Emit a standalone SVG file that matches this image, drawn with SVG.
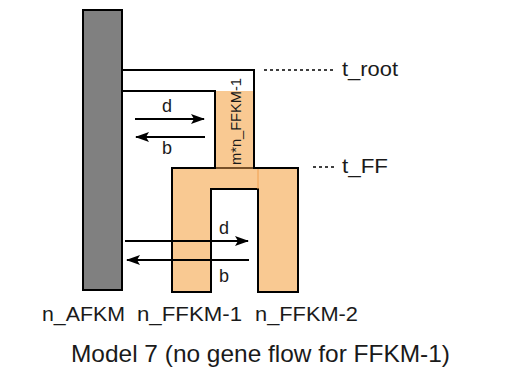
<svg xmlns="http://www.w3.org/2000/svg" width="523" height="377" viewBox="0 0 523 377">
<defs>
<style>
.t{font-family:"Liberation Sans",Arial,sans-serif;fill:#1a1a1a}
.ln{stroke:#000;stroke-width:2;fill:none}
.ar{stroke:#000;stroke-width:2;fill:none}
.dot{stroke:#000;stroke-width:1.3;stroke-dasharray:3,3;fill:none}
</style>
<marker id="ah2" viewBox="0 0 14 10" refX="13" refY="5" markerWidth="14" markerHeight="10" markerUnits="userSpaceOnUse" orient="auto">
<path d="M0,0 L14,5 L0,10 L3,5 z" fill="#000"/>
</marker>
</defs>
<rect width="523" height="377" fill="#fff"/>
<g id="root">
<path d="M122,70 L254,70 L254,168 L215,168 L215,91 L122,91" class="ln"/>
</g>
<g id="ffkm1_stem">
<rect x="215" y="91" width="39" height="77" fill="#F9C992"/>
<path d="M215,91 L215,168 M254,70 L254,168" class="ln"/>
<text class="t" font-size="14.5" textLength="87" lengthAdjust="spacingAndGlyphs" transform="translate(241,165) rotate(-90)">m*n_FFKM-1</text>
</g>
<g id="ff">
<path d="M172,168 L298,168 L298,292 L258,292 L258,189 L211,189 L211,292 L172,292 Z" fill="#F9C992" stroke="#000" stroke-width="2"/>
<path d="M258,169 L258,189 M216,168 L253,168" stroke="#F0A050" stroke-width="1" fill="none"/>
<path d="M172,168 L215,168 M254,168 L298,168" class="ln"/>
</g>
<g id="afkm">
<rect x="83" y="10" width="39" height="280" fill="#808080" stroke="#000" stroke-width="2"/>
</g>
<g id="connectors">
<line x1="135" y1="119" x2="204" y2="119" class="ar" marker-end="url(#ah2)"/>
<line x1="205" y1="137" x2="136" y2="137" class="ar" marker-end="url(#ah2)"/>
<line x1="125" y1="241" x2="248" y2="241" class="ar" marker-end="url(#ah2)"/>
<line x1="249" y1="260" x2="127" y2="260" class="ar" marker-end="url(#ah2)"/>
<line x1="264" y1="70" x2="334" y2="70" class="dot"/>
<line x1="313" y1="167" x2="334" y2="167" class="dot"/>
</g>
<g id="labels">
<text class="t" font-size="18" x="162" y="112">d</text>
<text class="t" font-size="18" x="162" y="154">b</text>
<text class="t" font-size="18" x="219" y="234">d</text>
<text class="t" font-size="18" x="219" y="282">b</text>
<text class="t" font-size="21" x="342" y="76" textLength="56" lengthAdjust="spacingAndGlyphs">t_root</text>
<text class="t" font-size="21" x="342" y="173" textLength="46" lengthAdjust="spacingAndGlyphs">t_FF</text>
<text class="t" font-size="20" x="42" y="321" textLength="83" lengthAdjust="spacingAndGlyphs">n_AFKM</text>
<text class="t" font-size="20" x="137" y="321" textLength="105" lengthAdjust="spacingAndGlyphs">n_FFKM-1</text>
<text class="t" font-size="20" x="255" y="321" textLength="103" lengthAdjust="spacingAndGlyphs">n_FFKM-2</text>
<text class="t" font-size="24.5" x="71" y="362" textLength="379" lengthAdjust="spacingAndGlyphs">Model 7 (no gene flow for FFKM-1)</text>
</g>
</svg>
